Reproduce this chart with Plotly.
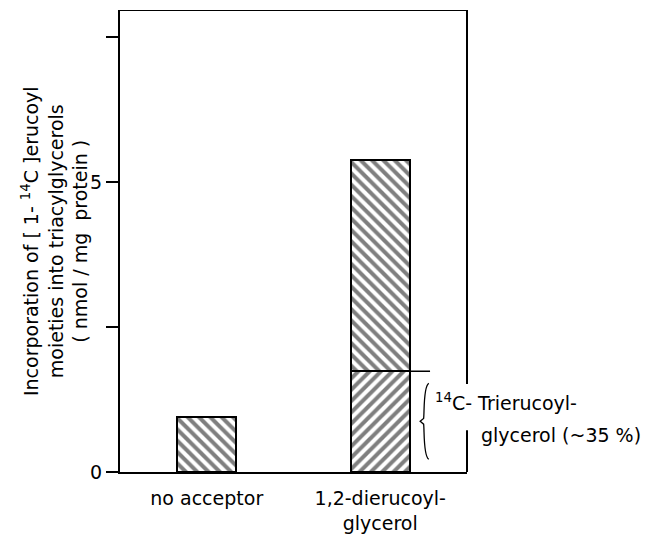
import plotly.graph_objects as go

categories = ["no acceptor", "1,2-dierucoyl-<br>glycerol"]
total_values = [0.95, 5.38]
trierucoyl_values = [0.0, 1.74]
ytick_vals = [0, 2.5, 5, 7.5]
ytick_text = ["0", "", "5", ""]

FONT = "DejaVu Sans"
xpos = [0, 1]
bar_w = 0.34

# lower segment: whole bar for 'no acceptor', trierucoyl part for the second
lower = [total_values[0], trierucoyl_values[1]]
upper = [0.0, total_values[1] - trierucoyl_values[1]]

fig = go.Figure()
fig.add_trace(go.Bar(
    x=xpos, y=lower, width=bar_w,
    marker=dict(color="white", line=dict(color="black", width=2),
                pattern=dict(shape=["\\", "/"], size=8, solidity=0.5,
                             fgcolor="black", bgcolor="white")),
    showlegend=False, hoverinfo="skip"))
fig.add_trace(go.Bar(
    x=xpos, y=upper, width=bar_w,
    marker=dict(color="white", line=dict(color="black", width=[0, 2]),
                pattern=dict(shape="\\", size=8, solidity=0.5,
                             fgcolor="black", bgcolor="white")),
    showlegend=False, hoverinfo="skip"))

ytop = 7.97
shapes = []
# top border
shapes.append(dict(type="line", xref="paper", yref="y", x0=0, x1=1, y0=ytop, y1=ytop,
                   line=dict(color="black", width=2)))
# right border (broken around the brace label)
shapes.append(dict(type="line", xref="paper", yref="y", x0=1, x1=1, y0=1.52, y1=ytop,
                   line=dict(color="black", width=2)))
shapes.append(dict(type="line", xref="paper", yref="y", x0=1, x1=1, y0=0, y1=0.72,
                   line=dict(color="black", width=2)))
# split line at trierucoyl level
split = trierucoyl_values[1]
shapes.append(dict(type="line", xref="x", yref="y", x0=1 - bar_w / 2, x1=1.287,
                   y0=split, y1=split, line=dict(color="black", width=1.5)))
# curly brace
bx = 1.255
b0, b1 = 0.22, 1.53
bm = (b0 + b1) / 2
d = 0.025
path = (f"M {bx+d},{b1} C {bx-d*0.3},{b1-0.05} {bx},{bm+0.15} {bx-d*0.2},{bm+0.05} "
        f"L {bx-d},{bm} L {bx-d*0.2},{bm-0.05} "
        f"C {bx},{bm-0.15} {bx-d*0.3},{b0+0.05} {bx+d},{b0}")
shapes.append(dict(type="path", xref="x", yref="y", path=path,
                   line=dict(color="black", width=1.3)))

annotations = [
    dict(text="Incorporation of [ 1- <sup>14</sup>C ]erucoyl<br>moieties into triacylglycerols<br>( nmol / mg  protein )",
         xref="paper", yref="paper", x=-0.19, y=0.50, xanchor="center", yanchor="middle",
         textangle=-90, showarrow=False, font=dict(family=FONT, size=19, color="black")),
    dict(text="<sup>14</sup>C- Trierucoyl-", xref="paper", yref="y", x=(433 - 120) / 347,
         y=1.21, xanchor="left", yanchor="middle", showarrow=False,
         font=dict(family=FONT, size=19, color="black")),
    dict(text="glycerol (~35 %)", xref="paper", yref="y", x=(479 - 120) / 347,
         y=0.63, xanchor="left", yanchor="middle", showarrow=False,
         font=dict(family=FONT, size=19, color="black")),
]

fig.update_layout(
    barmode="stack",
    width=646, height=544,
    margin=dict(l=120, r=179, t=10, b=51),
    plot_bgcolor="white", paper_bgcolor="white",
    shapes=shapes, annotations=annotations,
    font=dict(family=FONT, size=19, color="black"),
    xaxis=dict(range=[-0.5, 1.5], tickvals=xpos, ticktext=categories,
               showline=True, linecolor="black", linewidth=2, ticks="",
               ticklabelstandoff=8,
               showgrid=False, zeroline=False, tickfont=dict(size=19)),
    yaxis=dict(range=[0, ytop], tickvals=ytick_vals, ticktext=ytick_text,
               showline=True, linecolor="black", linewidth=2, ticks="outside",
               ticklen=12, tickwidth=1.5, tickcolor="black",
               showgrid=False, zeroline=False, tickfont=dict(size=19)),
)

fig.write_html("out.html")
